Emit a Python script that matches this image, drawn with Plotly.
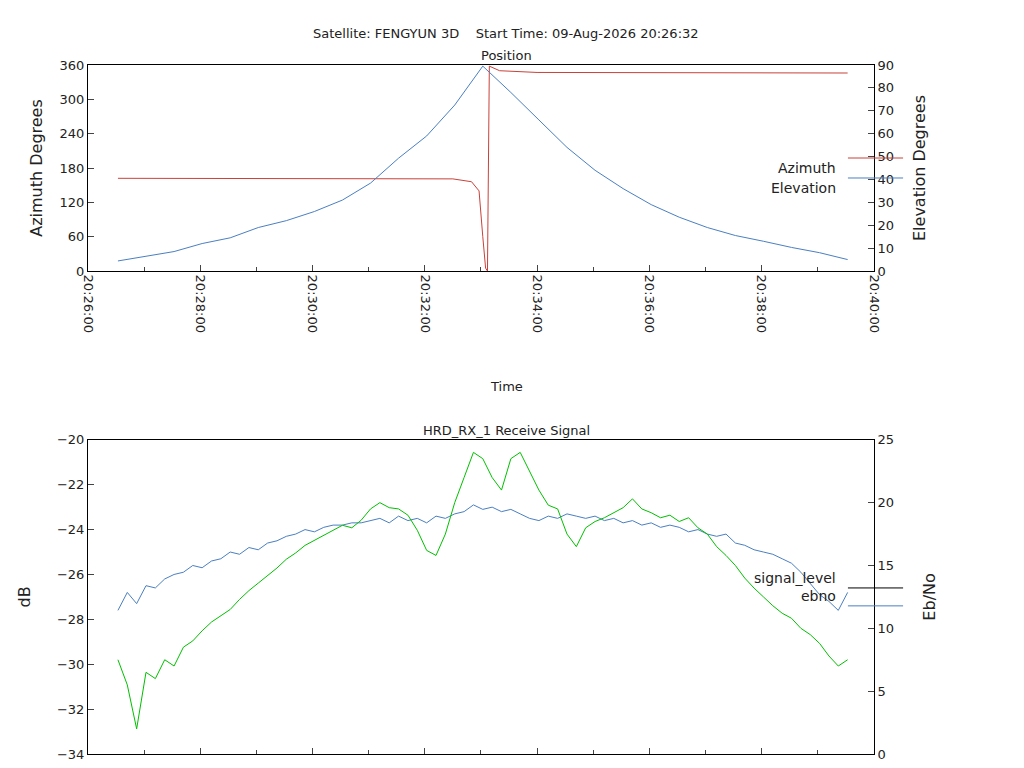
import plotly.graph_objects as go
from plotly.subplots import make_subplots
import pandas as pd

# Позиция спутника (шаг 30 с)
pos_times = pd.date_range("2026-08-09 20:26:32", "2026-08-09 20:39:32", freq="30s")
elevation = [4.4, 6.5, 8.5, 12.0, 14.5, 19.0, 22.0, 26.0, 31.0, 38.4, 49.3, 59.0, 72.5,
             89.5, 78.0, 66.0, 54.0, 44.0, 36.0, 29.0, 23.5, 19.0, 15.5, 13.0, 10.3, 8.0, 5.0]

az_times = ["2026-08-09 20:26:32", "2026-08-09 20:32:02", "2026-08-09 20:32:30",
            "2026-08-09 20:32:50", "2026-08-09 20:32:58", "2026-08-09 20:33:02",
            "2026-08-09 20:33:05", "2026-08-09 20:33:07", "2026-08-09 20:33:08",
            "2026-08-09 20:33:09", "2026-08-09 20:33:20", "2026-08-09 20:34:00",
            "2026-08-09 20:39:32"]
azimuth = [162, 162, 161, 156, 140, 60, 5, 0, 200, 358, 350, 347, 346]

# Сигнал приёмника (шаг 10 с)
sig_times = pd.date_range("2026-08-09 20:26:32", "2026-08-09 20:39:32", freq="10s")
signal_level = [-27.6, -26.8, -27.3, -26.5, -26.6, -26.2,
                -26.0, -25.9, -25.6, -25.7, -25.4, -25.3,
                -25.0, -25.1, -24.8, -24.9, -24.6, -24.5,
                -24.3, -24.2, -24.0, -24.1, -23.9, -23.8,
                -23.8, -23.7, -23.7, -23.6, -23.5, -23.7,
                -23.4, -23.6, -23.5, -23.7, -23.4, -23.5,
                -23.3, -23.2, -22.9, -23.1, -23.0, -23.2,
                -23.1, -23.3, -23.5, -23.6, -23.4, -23.5,
                -23.3, -23.4, -23.5, -23.4, -23.6, -23.5,
                -23.7, -23.6, -23.8, -23.7, -23.9, -23.8,
                -23.9, -24.1, -24.0, -24.2, -24.3, -24.2,
                -24.6, -24.7, -24.9, -25.0, -25.1, -25.3,
                -25.5, -25.9, -26.4, -26.9, -27.2, -27.6,
                -26.8]
ebno = [7.5, 5.5, 2.0, 6.5, 6.0, 7.5,
        7.0, 8.5, 9.0, 9.8, 10.5, 11.0,
        11.5, 12.3, 13.0, 13.6, 14.2, 14.8,
        15.5, 16.0, 16.6, 17.0, 17.4, 17.8,
        18.2, 18.0, 18.6, 19.5, 20.0, 19.6,
        19.5, 19.0, 17.8, 16.2, 15.8, 17.5,
        20.0, 22.0, 24.0, 23.5, 22.0, 21.0,
        23.5, 24.0, 22.5, 21.0, 19.8, 19.5,
        17.5, 16.5, 18.0, 18.5, 18.8, 19.2,
        19.6, 20.3, 19.5, 19.2, 18.8, 19.0,
        18.5, 18.8, 18.0, 17.5, 16.5, 15.8,
        15.0, 14.0, 13.2, 12.5, 11.8, 11.2,
        10.8, 10.0, 9.5, 8.8, 7.8, 7.0,
        7.5]

RED = "#c8413a"
BLUE = "#4a7fc1"
GREEN = "#00c000"
FONT = dict(family="DejaVu Sans", size=13, color="#222")

fig = make_subplots(rows=2, cols=1, specs=[[{"secondary_y": True}], [{"secondary_y": True}]])

fig.add_trace(go.Scatter(x=az_times, y=azimuth, mode="lines", line=dict(color=RED, width=1)),
              row=1, col=1, secondary_y=False)
fig.add_trace(go.Scatter(x=pos_times, y=elevation, mode="lines", line=dict(color=BLUE, width=1)),
              row=1, col=1, secondary_y=True)
fig.add_trace(go.Scatter(x=sig_times, y=signal_level, mode="lines", line=dict(color=BLUE, width=1)),
              row=2, col=1, secondary_y=False)
fig.add_trace(go.Scatter(x=sig_times, y=ebno, mode="lines", line=dict(color=GREEN, width=1)),
              row=2, col=1, secondary_y=True)

xr = ["2026-08-09 20:26:00", "2026-08-09 20:40:00"]
fig.update_xaxes(range=xr, type="date", dtick=120000, tick0="2026-08-09 20:26:00",
                 tickformat="%H:%M:%S", ticks="inside", ticklen=6, showline=True,
                 linecolor="black", mirror=True, showgrid=False, zeroline=False,
                 automargin=False, minor=dict(dtick=60000, ticks="inside", ticklen=4))
fig.update_xaxes(row=1, col=1, tickangle=90)
fig.update_xaxes(row=2, col=1, showticklabels=False)

fig.update_yaxes(ticks="inside", ticklen=6, showline=True, linecolor="black",
                 showgrid=False, zeroline=False, automargin=False)
fig.update_yaxes(row=1, col=1, secondary_y=False, range=[0, 360], dtick=60,
                 title=dict(text="Azimuth Degrees", standoff=12))
fig.update_yaxes(row=1, col=1, secondary_y=True, range=[0, 90], dtick=10,
                 title=dict(text="Elevation Degrees", standoff=20))
fig.update_yaxes(row=2, col=1, secondary_y=False, range=[-34, -20], dtick=2,
                 title=dict(text="dB", standoff=22))
fig.update_yaxes(row=2, col=1, secondary_y=True, range=[0, 25], dtick=5,
                 title=dict(text="Eb/No", standoff=30))

fig.update_layout(
    width=1024, height=768, font=FONT, showlegend=False,
    margin=dict(l=80, r=108, t=57, b=22),
    paper_bgcolor="white", plot_bgcolor="white",
    yaxis=dict(domain=[0.701, 1]), yaxis2=dict(domain=[0.701, 1]),
    yaxis3=dict(domain=[0, 0.456]), yaxis4=dict(domain=[0, 0.456]),
)

# Заголовки
fig.add_annotation(text="Satellite: FENGYUN 3D    Start Time: 09-Aug-2026 20:26:32",
                   x=0.5, y=1.0595, xref="paper", yref="paper", showarrow=False)
fig.add_annotation(text="Position", x=0.5, y=1.0, xref="paper", yref="paper",
                   yanchor="bottom", showarrow=False)
fig.add_annotation(text="HRD_RX_1 Receive Signal", x=0.5, y=0.456, xref="paper", yref="paper",
                   yanchor="bottom", showarrow=False)
fig.add_annotation(text="Time", x=0.5, y=0.533, xref="paper", yref="paper", showarrow=False)

# Легенды в стиле gnuplot: текст справа выровнен, затем образец линии
for name, col, ys in [("Azimuth", RED, 0.865), ("Elevation", BLUE, 0.836),
                      ("signal_level", "black", 0.241), ("ebno", BLUE, 0.215)]:
    fig.add_annotation(text=name, x=0.897, y=ys, xref="paper", yref="paper",
                       xanchor="right", showarrow=False, font=dict(size=14))
    fig.add_shape(type="line", x0=0.909, x1=0.975, y0=ys, y1=ys, xref="paper", yref="paper",
                  line=dict(color=col, width=1))

fig.write_html("out.html")
